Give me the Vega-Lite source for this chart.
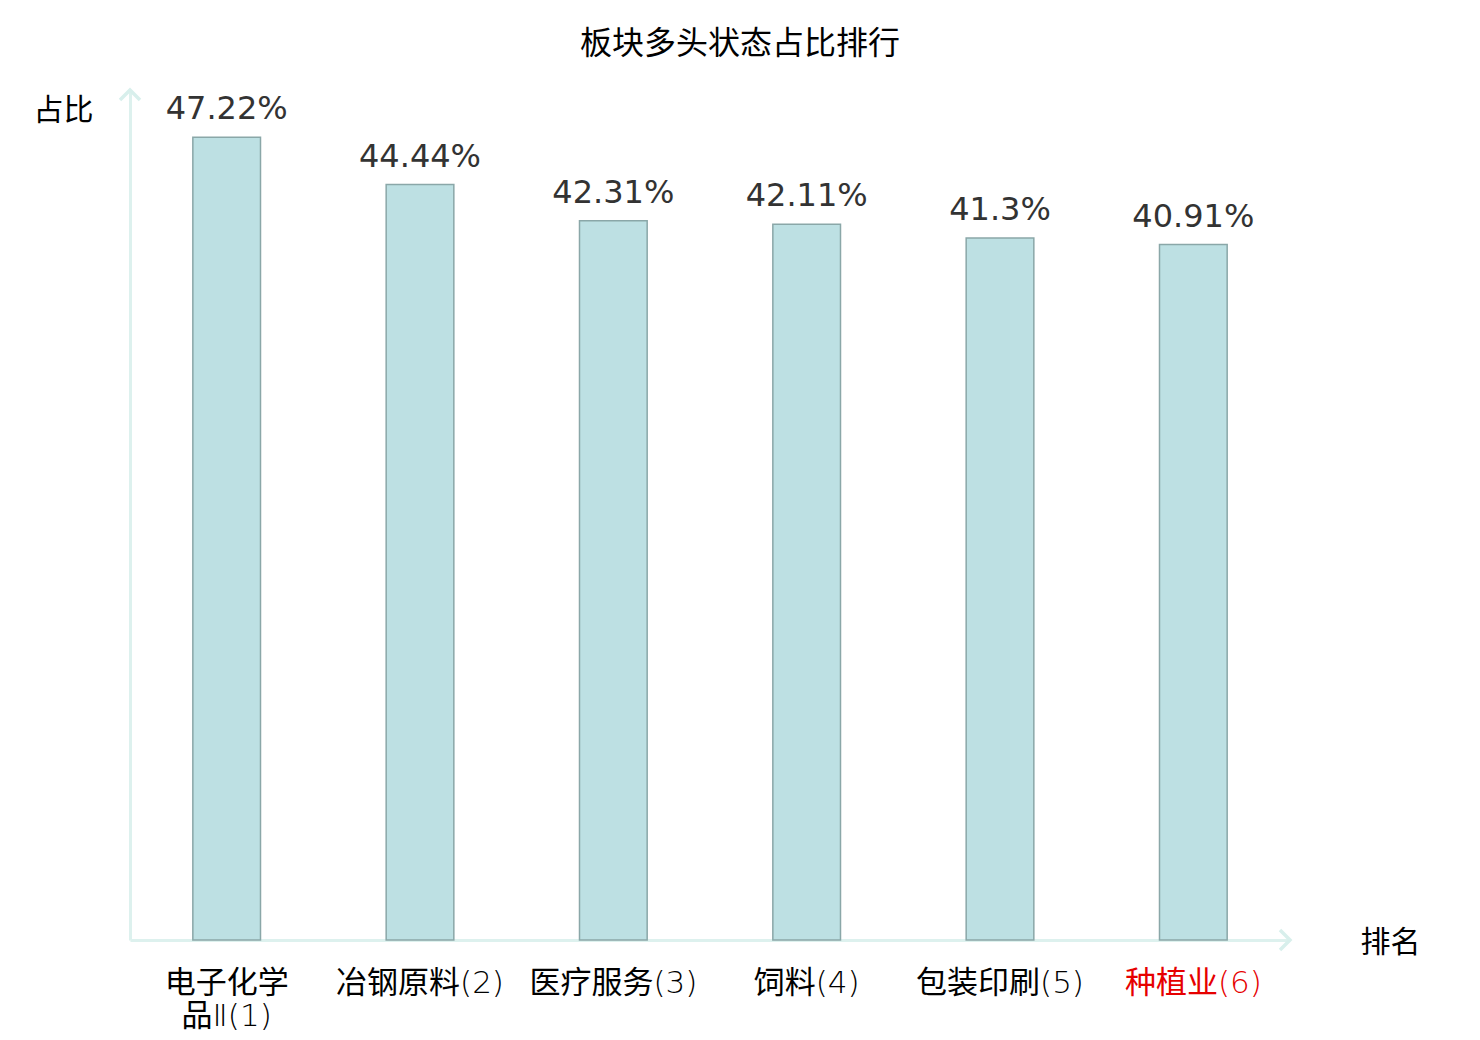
{
  "$schema": "https://vega.github.io/schema/vega-lite/v6.json",
  "autosize": "none",
  "width": 1160,
  "height": 850,
  "padding": {"left": 130, "top": 90, "right": 190, "bottom": 100},
  "background": "white",
  "title": {
    "text": "板块多头状态占比排行",
    "font": "Noto Sans CJK SC",
    "fontSize": 32,
    "fontWeight": "normal",
    "color": "black",
    "anchor": "middle",
    "dx": 30,
    "offset": 22
  },
  "data": {
    "values": [
      {"sector": "电子化学品Ⅱ(1)", "ratio": 0.4722},
      {"sector": "冶钢原料(2)", "ratio": 0.4444},
      {"sector": "医疗服务(3)", "ratio": 0.4231},
      {"sector": "饲料(4)", "ratio": 0.4211},
      {"sector": "包装印刷(5)", "ratio": 0.413},
      {"sector": "种植业(6)", "ratio": 0.4091}
    ]
  },
  "layer": [
    {
      "mark": {"type": "bar", "fill": "#bde0e3", "stroke": "#8aa7a8", "strokeWidth": 1.5},
      "encoding": {
        "x": {
          "field": "sector",
          "type": "nominal",
          "sort": null,
          "scale": {"paddingInner": 0.65},
          "axis": {
            "title": "排名",
            "titleFont": "Noto Sans CJK SC",
            "titleFontSize": 30,
            "titleFontWeight": "normal",
            "titleColor": "black",
            "titleAngle": 0,
            "titleAlign": "center",
            "titleBaseline": "middle",
            "titleX": 1260,
            "titleY": 2,
            "labelAngle": 0,
            "labelFont": "'DejaVu Sans ExtraLight', 'DejaVu Sans Light', 'Noto Sans CJK SC'",
            "labelFontSize": 31,
            "labelLineHeight": 33,
            "labelPadding": 28,
            "labelLimit": 400,
            "labelExpr": "length(datum.value) > 8 ? [substring(datum.value, 0, 4), substring(datum.value, 4)] : datum.value",
            "labelColor": {
              "condition": {"test": "datum.value == '种植业(6)'", "value": "#e60000"},
              "value": "black"
            },
            "ticks": false,
            "domainColor": "#ddf1ee",
            "domainWidth": 3
          }
        },
        "y": {
          "field": "ratio",
          "type": "quantitative",
          "scale": {"domain": [0, 0.5], "nice": false},
          "axis": {
            "title": "占比",
            "titleFont": "Noto Sans CJK SC",
            "titleFontSize": 30,
            "titleFontWeight": "normal",
            "titleColor": "black",
            "titleAngle": 0,
            "titleAlign": "center",
            "titleBaseline": "middle",
            "titleX": -67,
            "titleY": 20,
            "labels": false,
            "ticks": false,
            "grid": false,
            "domainColor": "#ddf1ee",
            "domainWidth": 3
          }
        }
      }
    },
    {
      "mark": {
        "type": "text",
        "baseline": "alphabetic",
        "dy": -18,
        "font": "DejaVu Sans",
        "fontSize": 32,
        "color": "#333333"
      },
      "encoding": {
        "x": {"field": "sector", "type": "nominal", "sort": null},
        "y": {"field": "ratio", "type": "quantitative"},
        "text": {"field": "ratio", "type": "quantitative", "format": ".2~%"}
      }
    },
    {
      "data": {"values": [{"end": "top", "ratio": 0.5}]},
      "mark": {
        "type": "point",
        "shape": "M-1,1L0,0L1,1",
        "size": 400,
        "filled": false,
        "color": "#d8efec",
        "strokeWidth": 3.5,
        "opacity": 1
      },
      "encoding": {
        "x": {"value": 0},
        "y": {"field": "ratio", "type": "quantitative"}
      }
    },
    {
      "data": {"values": [{"end": "right", "ratio": 0}]},
      "mark": {
        "type": "point",
        "shape": "M-1,-1L0,0L-1,1",
        "size": 400,
        "filled": false,
        "color": "#d8efec",
        "strokeWidth": 3.5,
        "opacity": 1
      },
      "encoding": {
        "x": {"value": "width"},
        "y": {"field": "ratio", "type": "quantitative"}
      }
    }
  ],
  "config": {
    "view": {"stroke": null}
  }
}
